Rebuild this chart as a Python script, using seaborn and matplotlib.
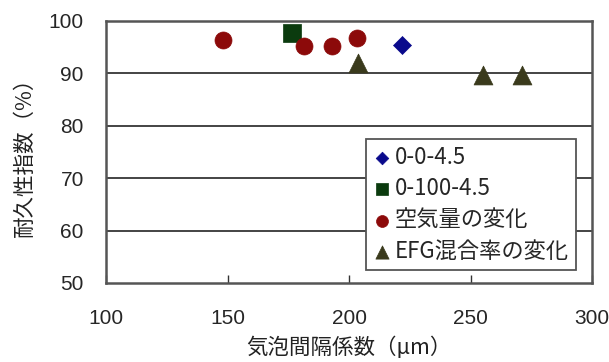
import matplotlib
matplotlib.use("Agg")
import matplotlib.pyplot as plt
import seaborn as sns
import pandas as pd

# Durability index vs. air-void spacing factor
series_names = ["0-0-4.5", "0-100-4.5", "空気量の変化", "EFG混合率の変化"]

x_base = [222.0]
y_base = [95.5]

x_fly = [176.4]
y_fly = [97.8]

x_air = [148.0, 181.5, 193.0, 203.2]
y_air = [96.4, 95.2, 95.2, 96.8]

x_efg = [203.5, 255.3, 271.0]
y_efg = [92.0, 89.6, 89.6]

x_ticks = [100, 150, 200, 250, 300]
y_ticks = [50, 60, 70, 80, 90, 100]

x_label = "気泡間隔係数（μm）"
y_label = "耐久性指数（%）"

sns.set_theme(style="white")
plt.rcParams["font.family"] = ["Noto Sans CJK JP", "DejaVu Sans"]

frames = []
for name, xs, ys in [(series_names[0], x_base, y_base),
                     (series_names[1], x_fly, y_fly),
                     (series_names[2], x_air, y_air),
                     (series_names[3], x_efg, y_efg)]:
    frames.append(pd.DataFrame({"spacing": xs, "durability": ys, "series": name}))
df = pd.concat(frames, ignore_index=True)

styles = {
    series_names[0]: dict(marker="D", color="#0a0a8c", s=84),
    series_names[1]: dict(marker="s", color="#0b3b0e", s=150),
    series_names[2]: dict(marker="o", color="#8c0a0a", s=150),
    series_names[3]: dict(marker="^", color="#3a3a1c", s=185),
}

fig = plt.figure(figsize=(6.09, 3.62), dpi=100)
ax = fig.add_axes([106 / 609, 1 - 283 / 362, 486 / 609, 262 / 362])

# horizontal reference lines
for yv in y_ticks[1:-1]:
    ax.axhline(yv, color="#111111", lw=1.1, zorder=0)

for name in series_names:
    st = styles[name]
    sub = df[df["series"] == name]
    sns.scatterplot(data=sub, x="spacing", y="durability", ax=ax,
                    marker=st["marker"], color=st["color"], s=st["s"],
                    edgecolor=st["color"], linewidth=0.5, label=name, zorder=3)

ax.set_xlim(100, 300)
ax.set_ylim(50, 100)
ax.set_xticks(x_ticks)
ax.set_yticks(y_ticks)
ax.set_xticklabels([str(v) for v in x_ticks], family="Liberation Sans", fontsize=15)
ax.set_yticklabels([str(v) for v in y_ticks], family="Liberation Sans", fontsize=15)
ax.tick_params(axis="x", direction="in", length=6, width=1, color="#333333",
               pad=19, bottom=True)
ax.tick_params(axis="y", length=0, pad=16)

for sp in ax.spines.values():
    sp.set_color("#555555")
    sp.set_linewidth(1.8)

ax.set_xlabel(x_label, fontsize=15.5, labelpad=6, color="#222222")
ax.set_ylabel(y_label, fontsize=15.5, labelpad=9, color="#222222")

leg = ax.legend(loc="upper left", bbox_to_anchor=(366 / 609, 1 - 139 / 362),
                bbox_transform=fig.transFigure, borderaxespad=0,
                frameon=True, fancybox=False, shadow=False,
                fontsize=16, markerscale=0.7, handlelength=0.8,
                handletextpad=0.2, labelspacing=0.38, borderpad=0.3)
leg.get_frame().set_edgecolor("#555555")
leg.get_frame().set_linewidth(1.3)
leg.get_frame().set_facecolor("white")
leg.get_frame().set_alpha(1)

fig.savefig("out.png", dpi=100)
